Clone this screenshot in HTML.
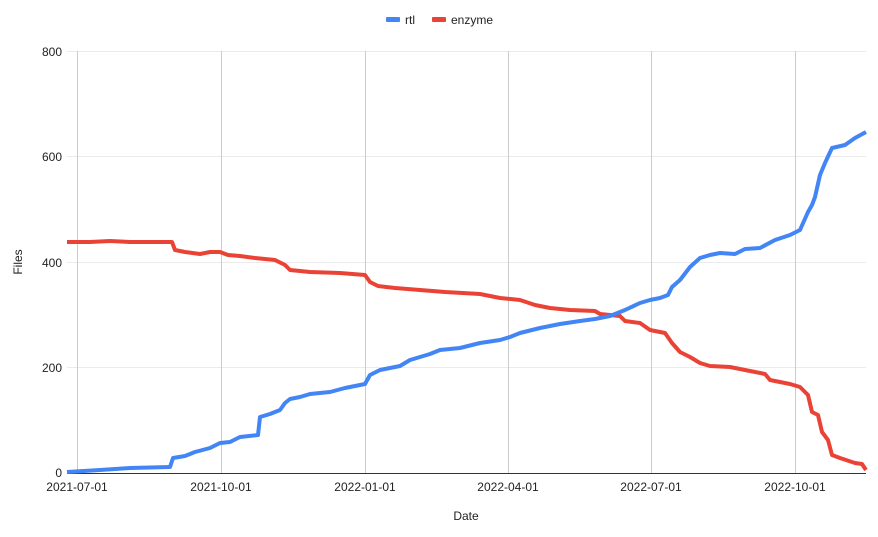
<!DOCTYPE html>
<html><head><style>body{margin:0;background:#fff}svg{display:block}text{font-family:"Liberation Sans",Arial,sans-serif;fill:#222}</style></head><body>
<svg width="878" height="537" viewBox="0 0 878 537">
<g stroke="#ebebeb" stroke-width="1">
<line x1="67" x2="866" y1="51.5" y2="51.5"/><line x1="67" x2="866" y1="156.5" y2="156.5"/><line x1="67" x2="866" y1="262.5" y2="262.5"/><line x1="67" x2="866" y1="367.5" y2="367.5"/>
</g>
<g stroke="#cccccc" stroke-width="1">
<line x1="77.5" x2="77.5" y1="51" y2="473"/><line x1="221.5" x2="221.5" y1="51" y2="473"/><line x1="365.5" x2="365.5" y1="51" y2="473"/><line x1="508.5" x2="508.5" y1="51" y2="473"/><line x1="651.5" x2="651.5" y1="51" y2="473"/><line x1="795.5" x2="795.5" y1="51" y2="473"/>
</g>
<line x1="67" x2="866" y1="473.5" y2="473.5" stroke="#333" stroke-width="1"/>
<g font-size="12" text-anchor="end">
<text x="62" y="56">800</text><text x="62" y="161">600</text><text x="62" y="267">400</text><text x="62" y="372">200</text><text x="62" y="477">0</text>
</g>
<g font-size="12" text-anchor="middle">
<text x="77" y="491">2021-07-01</text><text x="221" y="491">2021-10-01</text><text x="365" y="491">2022-01-01</text><text x="508" y="491">2022-04-01</text><text x="651" y="491">2022-07-01</text><text x="795" y="491">2022-10-01</text>
<text x="466" y="520">Date</text>
<text transform="translate(22,262) rotate(-90)">Files</text>
</g>
<rect x="386" y="17" width="14" height="5" rx="1" fill="#4285f4"/><text x="405" y="24" font-size="12">rtl</text>
<rect x="432" y="17" width="14" height="5" rx="1" fill="#ea4335"/><text x="451" y="24" font-size="12">enzyme</text>
<polyline fill="none" stroke="#ea4335" stroke-width="4" stroke-linejoin="round" points="67,242 90,242 110,241 130,242 172,242 175,250 185,252 200,254 210,252 220,252 228,255 240,256 255,258 275,260 285,265 290,270 300,271 310,272 340,273 365,275 370,282 378,286 395,288 420,290 445,292 480,294 500,298 520,300 535,305 550,308 570,310 595,311 600,314 620,316 625,321 640,323 650,330 665,333 672,343 680,352 690,357 700,363 710,366 730,367 745,370 765,374 770,380 780,382 790,384 800,387 808,395 812,412 818,415 822,432 828,440 832,455 840,458 855,463 862,464 866,470"/>
<polyline fill="none" stroke="#4285f4" stroke-width="4" stroke-linejoin="round" points="67,472 100,470 130,468 170,467 173,458 185,456 195,452 210,448 220,443 230,442 240,437 258,435 260,417 270,414 280,410 285,403 290,399 300,397 310,394 330,392 345,388 365,384 370,375 380,370 390,368 400,366 410,360 420,357 430,354 440,350 460,348 480,343 500,340 510,337 520,333 540,328 560,324 580,321 595,319 610,316 625,310 640,303 650,300 660,298 668,295 672,287 680,280 690,267 700,258 710,255 720,253 735,254 745,249 760,248 775,240 790,235 800,230 808,212 812,205 815,197 820,175 825,163 832,148 845,145 855,138 866,132"/>
</svg>
</body></html>
